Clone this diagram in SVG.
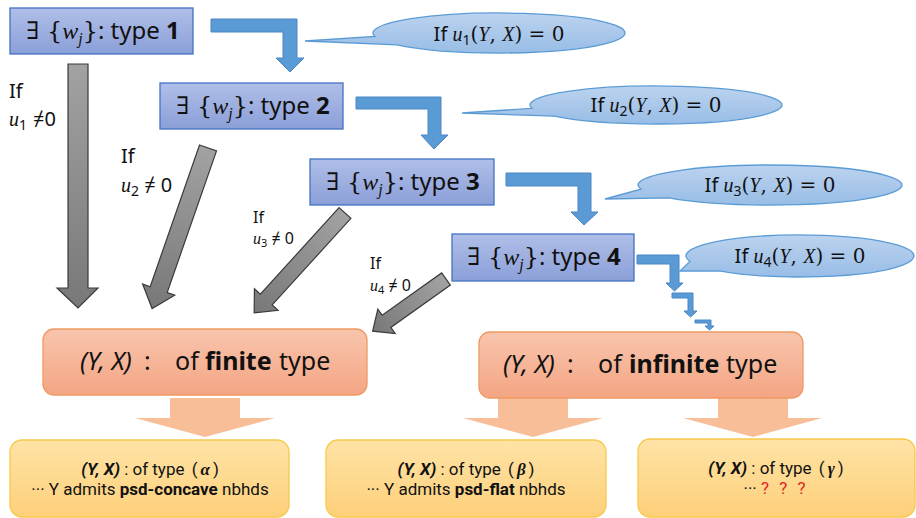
<svg xmlns="http://www.w3.org/2000/svg" width="916" height="518" viewBox="0 0 916 518">
<defs>
<linearGradient id="gBlue" x1="0" y1="0" x2="0" y2="1"><stop offset="0" stop-color="#b0bfe8"/><stop offset="1" stop-color="#8b9fd8"/></linearGradient>
<linearGradient id="gCall" x1="0" y1="0" x2="0" y2="1"><stop offset="0" stop-color="#bcd3ef"/><stop offset="1" stop-color="#98bde6"/></linearGradient>
<linearGradient id="gGray" x1="0" y1="0" x2="0" y2="1"><stop offset="0" stop-color="#a2a2a2"/><stop offset="1" stop-color="#787878"/></linearGradient>
<linearGradient id="gOr" x1="0" y1="0" x2="0" y2="1"><stop offset="0" stop-color="#f8c5ad"/><stop offset="1" stop-color="#f4a583"/></linearGradient>
<linearGradient id="gYel" x1="0" y1="0" x2="0" y2="1"><stop offset="0" stop-color="#ffe3a6"/><stop offset="1" stop-color="#fdd07a"/></linearGradient>
</defs>
<style>
.box{fill:url(#gBlue);stroke:#4472c4;stroke-width:1.3}
.call{fill:url(#gCall);stroke:#5b9bd5;stroke-width:1.3}
.barr{fill:#5b9bd5;stroke:#4a86c4;stroke-width:1}
.garr{fill:url(#gGray);stroke:#3a3a3a;stroke-width:1.2}
.oarr{fill:#f7be98}
.obox{fill:url(#gOr);stroke:#ee9a64;stroke-width:1.3}
.ybox{fill:url(#gYel);stroke:#f8c84a;stroke-width:1.3}
text{font-family:"Noto Sans","Open Sans","DejaVu Sans",sans-serif;fill:#111}
.bt{font-size:24px;text-anchor:middle}
.m{font-family:"DejaVu Serif","Liberation Serif",serif}
.mi{font-family:"Liberation Serif","DejaVu Serif",serif;font-style:italic}
.ct{font-size:20px;text-anchor:middle}
.lb{font-size:20px}
.lbs{font-size:16px}
.ft{font-size:25px}
.yt{font-family:Roboto,"Liberation Sans",sans-serif;font-size:17px;text-anchor:middle}
</style>

<g id="connectors">
<polygon class="barr" points="211,19 297,19 297,58 304,58 290,72 276,58 283,58 283,32 211,32"/>
<polygon class="barr" points="356,97 441,97 441,135 448,135 434,149 421,135 428,135 428,109 356,109"/>
<polygon class="barr" points="506,173 591,173 591,212 598,212 584,225 571,212 578,212 578,186 506,186"/>
<polygon class="barr" points="637,255 679,255 679,283 683,283 674.5,291 666,283 670,283 670,264 637,264"/>
<polygon class="barr" points="672,293 693,293 693,311 697,311 690.5,317 684,311 688,311 688,298 672,298"/>
<polygon class="barr" points="695,320 711,320 711,326 714,326 709.5,330 705,326 708,326 708,323 695,323"/>
<polygon class="garr" points="68,64 88,64 88,288 98,288 78,308 57,288 68,288"/>
<polygon class="garr" transform="translate(208,148) rotate(19.2)" points="-9,0 9,0 9,150 17,150 0,170 -17,150 -9,150"/>
<polygon class="garr" transform="translate(345,213) rotate(42.3)" points="-8,0 8,0 8,117 16,117 0,135 -16,117 -8,117"/>
<polygon class="garr" transform="translate(446,279) rotate(54.6)" points="-7.5,0 7.5,0 7.5,73 15,73 0,90 -15,73 -7.5,73"/>
<polygon class="oarr" points="170,398 240,398 240,418 275,418 205,437 135,418 170,418"/>
<polygon class="oarr" points="498,398 568,398 568,418 603,418 533,437 463,418 498,418"/>
<polygon class="oarr" points="718,398 788,398 788,418 822,418 753,437 683,418 718,418"/>
</g>

<g id="label-u1">
<text class="lb" x="9" y="98">If</text>
<text class="lb" x="9" y="126"><tspan class="mi">u</tspan><tspan font-size="14" dy="4">1</tspan><tspan dy="-4" dx="6">≠0</tspan></text>
</g>
<g id="label-u2">
<text class="lb" x="121" y="163">If</text>
<text class="lb" x="121" y="192"><tspan class="mi">u</tspan><tspan font-size="14" dy="4">2</tspan><tspan dy="-4"> ≠ 0</tspan></text>
</g>
<g id="label-u3">
<text class="lbs" x="253" y="223">If</text>
<text class="lbs" x="253" y="244"><tspan class="mi">u</tspan><tspan font-size="11" dy="3">3</tspan><tspan dy="-3"> ≠ 0</tspan></text>
</g>
<g id="label-u4">
<text class="lbs" x="370" y="269">If</text>
<text class="lbs" x="370" y="291"><tspan class="mi">u</tspan><tspan font-size="11" dy="3">4</tspan><tspan dy="-3"> ≠ 0</tspan></text>
</g>

<g id="callout1">
<path class="call" d="M374.9,36.5 A126,20 0 1 1 397.1,44.8 L305,41 Z"/>
<text class="ct" x="499" y="41">If <tspan class="mi">u</tspan><tspan font-size="14" dy="4">1</tspan><tspan class="m" dy="-4">(</tspan><tspan class="mi">Y</tspan><tspan class="m">, </tspan><tspan class="mi">X</tspan><tspan class="m">) = 0</tspan></text>
</g>
<g id="callout2">
<path class="call" d="M531.9,108.3 A126,19 0 1 1 554.1,116.2 L462,113 Z"/>
<text class="ct" x="656" y="112">If <tspan class="mi">u</tspan><tspan font-size="14" dy="4">2</tspan><tspan class="m" dy="-4">(</tspan><tspan class="mi">Y</tspan><tspan class="m">, </tspan><tspan class="mi">X</tspan><tspan class="m">) = 0</tspan></text>
</g>
<g id="callout3">
<path class="call" d="M640.9,189.2 A132,20 0 1 1 668.9,197.9 L605,199 Z"/>
<text class="ct" x="770" y="192">If <tspan class="mi">u</tspan><tspan font-size="14" dy="4">3</tspan><tspan class="m" dy="-4">(</tspan><tspan class="mi">Y</tspan><tspan class="m">, </tspan><tspan class="mi">X</tspan><tspan class="m">) = 0</tspan></text>
</g>
<g id="callout4">
<path class="call" d="M689.9,261.4 A114,21 0 1 1 719.4,270.8 L680,271 Z"/>
<text class="ct" x="800" y="263">If <tspan class="mi">u</tspan><tspan font-size="14" dy="4">4</tspan><tspan class="m" dy="-4">(</tspan><tspan class="mi">Y</tspan><tspan class="m">, </tspan><tspan class="mi">X</tspan><tspan class="m">) = 0</tspan></text>
</g>

<g id="type1">
<rect class="box" x="10" y="8" width="183" height="46"/>
<text class="bt" x="103" y="39"><tspan class="m">∃ {</tspan><tspan class="mi">w</tspan><tspan class="mi" font-size="16" dy="5">j</tspan><tspan class="m" dy="-5">}</tspan>: type <tspan font-weight="bold">1</tspan></text>
</g>
<g id="type2">
<rect class="box" x="160" y="83" width="183" height="46"/>
<text class="bt" x="253" y="114"><tspan class="m">∃ {</tspan><tspan class="mi">w</tspan><tspan class="mi" font-size="16" dy="5">j</tspan><tspan class="m" dy="-5">}</tspan>: type <tspan font-weight="bold">2</tspan></text>
</g>
<g id="type3">
<rect class="box" x="310" y="159" width="184" height="46"/>
<text class="bt" x="403" y="190"><tspan class="m">∃ {</tspan><tspan class="mi">w</tspan><tspan class="mi" font-size="16" dy="5">j</tspan><tspan class="m" dy="-5">}</tspan>: type <tspan font-weight="bold">3</tspan></text>
</g>
<g id="type4">
<rect class="box" x="452" y="234" width="182" height="47"/>
<text class="bt" x="544" y="265"><tspan class="m">∃ {</tspan><tspan class="mi">w</tspan><tspan class="mi" font-size="16" dy="5">j</tspan><tspan class="m" dy="-5">}</tspan>: type <tspan font-weight="bold">4</tspan></text>
</g>

<g id="finite">
<rect class="obox" x="43" y="329" width="324" height="66" rx="11"/>
<text class="ft" y="370"><tspan x="80" font-style="italic">(Y, X)</tspan><tspan x="144">:</tspan><tspan x="175">of</tspan><tspan x="205" font-weight="bold">finite</tspan><tspan x="279">type</tspan></text>
</g>
<g id="infinite">
<rect class="obox" x="479" y="332" width="324" height="66" rx="11"/>
<text class="ft" y="373"><tspan x="503" font-style="italic">(Y, X)</tspan><tspan x="567">:</tspan><tspan x="598">of</tspan><tspan x="629" font-weight="bold">infinite</tspan><tspan x="726">type</tspan></text>
</g>

<g id="alpha">
<rect class="ybox" x="10" y="440" width="279" height="77" rx="12"/>
<text class="yt" x="150" y="475"><tspan font-weight="bold" font-style="italic">(Y, X)</tspan> :  of type <tspan dx="3">(</tspan><tspan class="mi" font-weight="bold" dx="3">α</tspan><tspan dx="3">)</tspan></text>
<text class="yt" x="150" y="495">··· Y admits <tspan font-weight="bold">psd-concave</tspan> nbhds</text>
</g>
<g id="beta">
<rect class="ybox" x="326" y="440" width="280" height="77" rx="12"/>
<text class="yt" x="466" y="475"><tspan font-weight="bold" font-style="italic">(Y, X)</tspan> :  of type <tspan dx="3">(</tspan><tspan class="mi" font-weight="bold" dx="3">β</tspan><tspan dx="3">)</tspan></text>
<text class="yt" x="466" y="495">··· Y admits <tspan font-weight="bold">psd-flat</tspan> nbhds</text>
</g>
<g id="gamma">
<rect class="ybox" x="638" y="439" width="277" height="78" rx="12"/>
<text class="yt" x="776" y="474"><tspan font-weight="bold" font-style="italic">(Y, X)</tspan> :  of type <tspan dx="3">(</tspan><tspan class="mi" font-weight="bold" dx="3">γ</tspan><tspan dx="3">)</tspan></text>
<text class="yt" x="776" y="494">··· <tspan fill="#e02424" letter-spacing="3">? ? ?</tspan></text>
</g>
</svg>
